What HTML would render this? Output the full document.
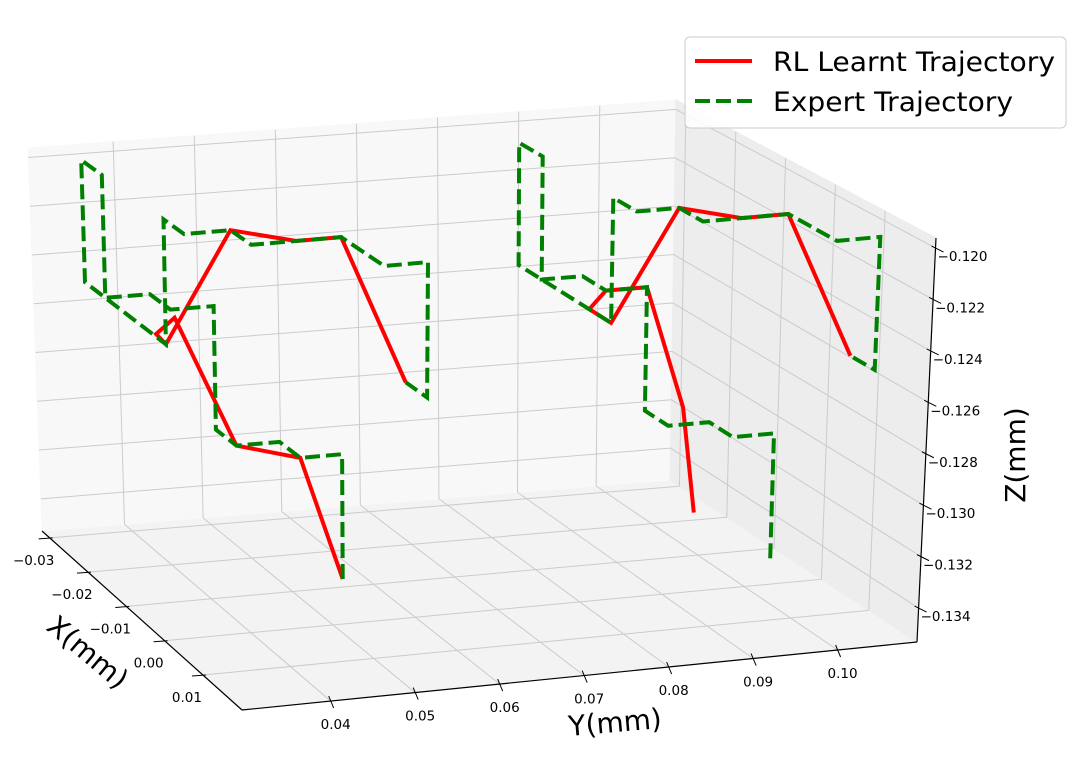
<!DOCTYPE html>
<html><head><meta charset="utf-8"><style>
html,body{margin:0;padding:0;background:#fff;overflow:hidden;}
svg{display:block;font-family:"DejaVu Sans","Liberation Sans",sans-serif;}
</style></head><body>
<svg id="chart" width="1076" height="774" viewBox="0 0 1076 774" xmlns="http://www.w3.org/2000/svg">
<g id="panes"></g>
<g id="grid"></g>
<g id="axes"></g>
<g id="series"></g>
<text x="88" y="662" font-size="28" text-anchor="middle" transform="rotate(40 88 652)">X(mm)</text>
<text x="615" y="732" font-size="28" text-anchor="middle" transform="rotate(-5 615 722)">Y(mm)</text>
<text x="1015" y="465" font-size="28" text-anchor="middle" transform="rotate(-90 1015 455)">Z(mm)</text>
<g>
<rect x="685" y="37" width="381" height="91" rx="5" fill="#fff" fill-opacity="0.85" stroke="#cccccc" stroke-width="1"/>
<line x1="695" y1="61" x2="752" y2="61" stroke="#ff0000" stroke-width="4"/>
<text x="773" y="71" font-size="27" textLength="282" lengthAdjust="spacingAndGlyphs">RL Learnt Trajectory</text>
<line x1="695" y1="101" x2="752" y2="101" stroke="#008000" stroke-width="4" stroke-dasharray="15,6"/>
<text x="773" y="111" font-size="27" textLength="240" lengthAdjust="spacingAndGlyphs">Expert Trajectory</text>
</g>
</svg>
<script>
const X_TICKS = [-0.03, -0.02, -0.01, 0.00, 0.01];
const X_TICK_LABELS = ["\u22120.03", "\u22120.02", "\u22120.01", "0.00", "0.01"];
const Y_TICKS = [0.04, 0.05, 0.06, 0.07, 0.08, 0.09, 0.10];
const Y_TICK_LABELS = ["0.04", "0.05", "0.06", "0.07", "0.08", "0.09", "0.10"];
const Z_TICKS = [-0.120, -0.122, -0.124, -0.126, -0.128, -0.130, -0.132, -0.134];
const Z_TICK_LABELS = ["\u22120.120", "\u22120.122", "\u22120.124", "\u22120.126", "\u22120.128", "\u22120.130", "\u22120.132", "\u22120.134"];
const XLIM = [-0.032, 0.0202];
const YLIM = [0.0295, 0.1094];
const ZLIM = [-0.13532, -0.11961];

// Episode 1 (left)
const expert1X = [-0.010,-0.010,-0.010,-0.015,-0.015,-0.020,-0.020,-0.020,-0.025,-0.025,-0.025,-0.030,-0.030,-0.010,-0.010,-0.005,-0.005,0.000,0.000,0.010,0.010,0.010,0.005];
const expert1Y = [0.0562,0.0562,0.0511,0.0511,0.0458,0.0458,0.0458,0.0405,0.0405,0.035,0.035,0.035,0.035,0.035,0.035,0.035,0.0405,0.0405,0.0511,0.0511,0.0562,0.0562,0.0562];
const expert1Z = [-0.135,-0.130,-0.130,-0.130,-0.130,-0.130,-0.125,-0.125,-0.125,-0.125,-0.120,-0.120,-0.125,-0.125,-0.120,-0.120,-0.120,-0.120,-0.120,-0.120,-0.120,-0.1253,-0.1253];
const agent1X = [-0.010,-0.010,-0.015,-0.019,-0.019,-0.010,-0.005,0.000,0.000,0.005];
const agent1Y = [0.0562,0.0511,0.0458,0.0405,0.0382,0.035,0.0405,0.0458,0.0511,0.0562];
const agent1Z = [-0.135,-0.130,-0.130,-0.1252,-0.1258,-0.125,-0.120,-0.120,-0.120,-0.1253];
// Episode 2 (right)
const expert2X = [-0.005,-0.005,-0.005,-0.010,-0.010,-0.015,-0.015,-0.015,-0.020,-0.020,-0.020,-0.025,-0.025,-0.005,-0.005,0.000,0.000,0.005,0.005,0.015,0.015,0.015,0.010];
const expert2Y = [0.106,0.106,0.101,0.101,0.096,0.096,0.096,0.091,0.091,0.086,0.086,0.086,0.086,0.086,0.086,0.086,0.091,0.091,0.101,0.101,0.106,0.106,0.106];
const expert2Z = [-0.135,-0.130,-0.130,-0.130,-0.130,-0.130,-0.125,-0.125,-0.125,-0.125,-0.120,-0.120,-0.125,-0.125,-0.120,-0.120,-0.120,-0.120,-0.120,-0.120,-0.120,-0.1252,-0.1252];
const agent2X = [-0.015,-0.015,-0.015,-0.015,-0.015,-0.005,0.000,0.005,0.005,0.010];
const agent2Y = [0.1023,0.1007,0.096,0.091,0.089,0.086,0.091,0.0955,0.101,0.106];
const agent2Z = [-0.1343,-0.130,-0.125,-0.125,-0.1257,-0.125,-0.120,-0.120,-0.120,-0.1252];

// box corner screen positions C[u][v][w]
const C = [[[[42,531],[28,148]],[[670,480],[676,100]]],[[[242,710],[240,303]],[[917,642],[936,238]]]];
function projN(u,v,w){
  let px=0,py=0;
  for(let a=0;a<2;a++)for(let b=0;b<2;b++)for(let c=0;c<2;c++){
    const wt=(a?u:1-u)*(b?v:1-v)*(c?w:1-w);
    px+=wt*C[a][b][c][0]; py+=wt*C[a][b][c][1];
  }
  return [px,py];
}
function nx(x){return (x-XLIM[0])/(XLIM[1]-XLIM[0]);}
function ny(y){return (y-YLIM[0])/(YLIM[1]-YLIM[0]);}
function nz(z){return (z-ZLIM[0])/(ZLIM[1]-ZLIM[0]);}
function proj(x,y,z){return projN(nx(x),ny(y),nz(z));}
const NS='http://www.w3.org/2000/svg';
function mk(tag,parent){const e=document.createElementNS(NS,tag);parent.appendChild(e);return e;}
function line(parent,p,q,stroke,sw){const l=mk('line',parent);l.setAttribute('x1',p[0]);l.setAttribute('y1',p[1]);l.setAttribute('x2',q[0]);l.setAttribute('y2',q[1]);l.setAttribute('stroke',stroke);l.setAttribute('stroke-width',sw);return l;}

const panes=document.getElementById('panes');
const paneDefs=[[[0,0,0],[1,0,0],[1,1,0],[0,1,0]],[[0,0,0],[0,1,0],[0,1,1],[0,0,1]],[[0,1,0],[1,1,0],[1,1,1],[0,1,1]]];
const paneFill=['#f3f3f3','#f8f8f8','#ededed'];
const paneNames=['floor-pane','back-pane','side-pane'];
paneDefs.forEach((pd,i)=>{
  const p=mk('polygon',panes);
  p.setAttribute('points',pd.map(c=>projN(c[0],c[1],c[2]).join(',')).join(' '));
  p.setAttribute('fill',paneFill[i]);p.setAttribute('stroke',paneFill[i]);
  
  
});

const grid=document.getElementById('grid');
const GC='#cbcbcb';
X_TICKS.forEach(t=>{const u=nx(t);
  const g1=line(grid,projN(u,0,0),projN(u,1,0),GC,1);
  
  
  const g2=line(grid,projN(u,1,0),projN(u,1,1),GC,1);
  
  
});
Y_TICKS.forEach(t=>{const v=ny(t);
  const g1=line(grid,projN(0,v,0),projN(1,v,0),GC,1);
  
  
  const g2=line(grid,projN(0,v,0),projN(0,v,1),GC,1);
  
  
});
Z_TICKS.forEach(t=>{const w=nz(t);
  const g1=line(grid,projN(0,0,w),projN(0,1,w),GC,1);
  
  
  const g2=line(grid,projN(0,1,w),projN(1,1,w),GC,1);
  
  
});

const axes=document.getElementById('axes');
const ax1=line(axes,projN(0,0,0),projN(1,0,0),'#000',1.2);


const ax2=line(axes,projN(1,0,0),projN(1,1,0),'#000',1.2);


const ax3=line(axes,projN(1,1,0),projN(1,1,1),'#000',1.2);


function label(txt,x,y,anchor){const t=mk('text',axes);t.setAttribute('x',x);t.setAttribute('y',y);t.setAttribute('font-size','13.5');t.setAttribute('text-anchor',anchor);t.setAttribute('dominant-baseline','central');t.textContent=txt;return t;}
X_TICKS.forEach((t,i)=>{const p=proj(t,YLIM[0],ZLIM[0]);
  const tk=line(axes,[p[0]-11,p[1]+1],[p[0]+3,p[1]],'#000',1);
  
  
  const lb=label(X_TICK_LABELS[i],p[0]-16,p[1]+23,'middle');
  
  
});
Y_TICKS.forEach((t,i)=>{const p=proj(XLIM[1],t,ZLIM[0]);
  const tk=line(axes,[p[0]-2,p[1]-5],[p[0]+3,p[1]+7],'#000',1);
  
  
  const lb=label(Y_TICK_LABELS[i],p[0]+5,p[1]+24,'middle');
  
  
});
Z_TICKS.forEach((t,i)=>{const p=proj(XLIM[1],YLIM[1],t);
  const tk=line(axes,[p[0]-4,p[1]-2],[p[0]+8,p[1]+4],'#000',1);
  
  
  const lb=label(Z_TICK_LABELS[i],p[0]+27,p[1]+9,'middle');
  
  
});

const series=document.getElementById('series');
function path(xs,ys,zs,color,dash){
  const pl=mk('polyline',series);
  pl.setAttribute('points',xs.map((x,i)=>proj(x,ys[i],zs[i]).map(v=>v.toFixed(1)).join(',')).join(' '));
  pl.setAttribute('fill','none');pl.setAttribute('stroke',color);pl.setAttribute('stroke-width','4');
  pl.setAttribute('stroke-linejoin','miter');
  if(dash)pl.setAttribute('stroke-dasharray',dash);
  return pl;
}
const a1=path(agent1X,agent1Y,agent1Z,'#ff0000',null);


const a2=path(agent2X,agent2Y,agent2Z,'#ff0000',null);


const e1=path(expert1X,expert1Y,expert1Z,'#008000','15,6');


const e2=path(expert2X,expert2Y,expert2Z,'#008000','15,6');


</script>
</body></html>
